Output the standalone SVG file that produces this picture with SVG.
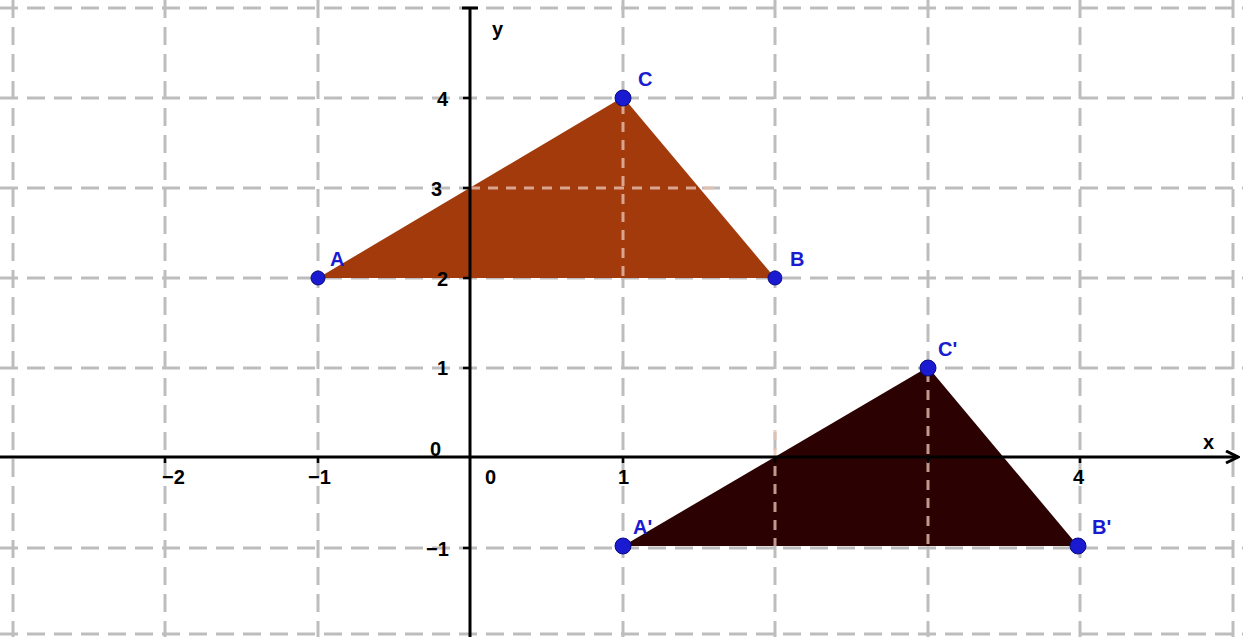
<svg xmlns="http://www.w3.org/2000/svg" width="1243" height="637" viewBox="0 0 1243 637">
<defs>
<style>
.grid{stroke:#bdbdbd;stroke-width:3;stroke-dasharray:18 9;fill:none}
.gridin{stroke:#e8c0b0;stroke-opacity:0.8;stroke-width:3;stroke-dasharray:10 8;fill:none}
.axis{stroke:#000;stroke-width:3;fill:none}
.tick{stroke:#000;stroke-width:2.5}
.num{font-family:"Liberation Sans",Arial,sans-serif;font-weight:bold;font-size:20px;fill:#000}
.lbl{font-family:"Liberation Sans",Arial,sans-serif;font-weight:bold;font-size:20px;fill:#1a1ad0}
.pt{fill:#1a1ad0;stroke:#0a0a80;stroke-width:1}
</style>
<marker id="arr" viewBox="0 0 10 10" refX="9" refY="5" markerWidth="5" markerHeight="5" orient="auto"><path d="M1 1 L9 5 L1 9" fill="none" stroke="#000" stroke-width="2"/></marker>
</defs>
<rect width="1243" height="637" fill="#fff"/>
<g id="grid">
<path class="grid" d="M13 0V637M165 0V637M318 0V637M623 0V637M775 0V637M928 0V637M1080 0V637M1233 0V637"/>
<path class="grid" d="M0 8H1243M0 98H1243M0 188H1243M0 278H1243M0 368H1243M0 548H1243M0 634H1243"/>
</g>
<g id="triangle-ABC"><polygon points="318,278 775,278 623,97" fill="#a23a0c"/></g>
<g id="triangle-A1B1C1"><polygon points="623,546 1078,546 928,367" fill="#2c0101"/></g>
<g id="grid-over">
<path class="gridin" d="M623 104V278M470 188H718"/>
<path class="gridin" d="M775 430V546M928 372V546"/>
</g>
<g id="axes">
<line class="axis" x1="0" y1="457" x2="1238" y2="457" marker-end="url(#arr)"/>
<line class="axis" x1="470" y1="637" x2="470" y2="8"/>
<line x1="462" y1="8" x2="478" y2="8" stroke="#000" stroke-width="3"/>
<path class="tick" d="M165 457v6M318 457v6M623 457v6M775 457v6M928 457v6M1080 457v6M463 98h7M463 188h7M463 278h7M463 368h7M463 548h7"/>
</g>
<g id="labels">
<text class="num" x="492" y="36">y</text>
<text class="num" x="1203" y="449">x</text>
<text class="num" x="437" y="106">4</text>
<text class="num" x="431" y="196">3</text>
<text class="num" x="437" y="286">2</text>
<text class="num" x="437" y="375">1</text>
<text class="num" x="430" y="456">0</text>
<text class="num" x="426" y="556">−1</text>
<text class="num" x="162" y="484">−2</text>
<text class="num" x="308" y="484">−1</text>
<text class="num" x="485" y="484">0</text>
<text class="num" x="618" y="484">1</text>
<text class="num" x="1073" y="484">4</text>
</g>
<g id="point-A"><circle class="pt" cx="318" cy="278" r="7"/><text class="lbl" x="330" y="266">A</text></g>
<g id="point-B"><circle class="pt" cx="775" cy="278" r="7"/><text class="lbl" x="790" y="266">B</text></g>
<g id="point-C"><circle class="pt" cx="623" cy="98" r="8"/><text class="lbl" x="638" y="86">C</text></g>
<g id="point-A1"><circle class="pt" cx="623" cy="546" r="8"/><text class="lbl" x="633" y="534">A'</text></g>
<g id="point-B1"><circle class="pt" cx="1078" cy="546" r="8"/><text class="lbl" x="1092" y="534">B'</text></g>
<g id="point-C1"><circle class="pt" cx="928" cy="368" r="8"/><text class="lbl" x="938" y="356">C'</text></g>
</svg>
